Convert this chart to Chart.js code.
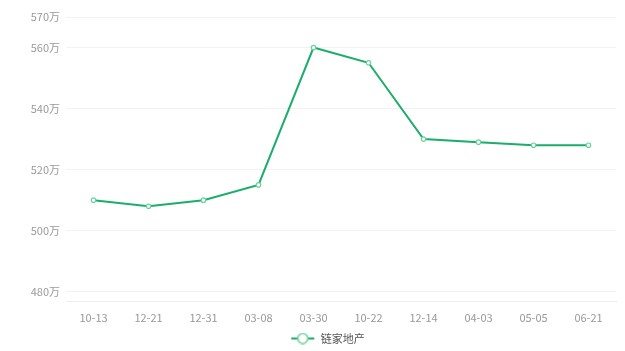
<!DOCTYPE html>
<html><head><meta charset="utf-8">
<script src="https://cdn.jsdelivr.net/npm/chart.js@4"></script>
<style>html,body{margin:0;padding:0;background:#fff}#w{width:625px;height:351px}</style>
</head><body><div id="w"><canvas id="c" width="625" height="351"></canvas></div>
<script>
const categories = ["10-13","12-21","12-31","03-08","03-30","10-22","12-14","04-03","05-05","06-21"];
const values = [510,508,510,515,560,555,530,529,528,528];
const yTicks = [480,500,520,540,560,570];
const seriesName = "链家地产";
const lineColor = "#1aad6b";

const icon = document.createElement('canvas');
icon.width = 64; icon.height = 12;
(function(){const g=icon.getContext('2d');const o=40;g.strokeStyle=lineColor;g.lineWidth=2;g.beginPath();g.moveTo(o,6);g.lineTo(o+23,6);g.stroke();g.beginPath();g.arc(o+11.5,6,5,0,Math.PI*2);g.fillStyle='#fff';g.fill();g.strokeStyle='#6cd3a0';g.lineWidth=1.6;g.stroke();})();

const font = {family:"'Noto Sans CJK SC','Open Sans',sans-serif", size:11};
new Chart(document.getElementById('c'), {
  type:'line',
  data:{labels:categories,datasets:[{label:seriesName,data:values,borderColor:lineColor,borderWidth:2,backgroundColor:'#fff',pointBorderColor:'#6cd3a0',pointBackgroundColor:'#fff',pointRadius:2.2,pointBorderWidth:1.2,tension:0,fill:false}]},
  options:{
    responsive:false,animation:false,
    layout:{padding:{left:0,right:9,top:17,bottom:-3}},
    plugins:{
      legend:{position:'bottom',labels:{usePointStyle:true,pointStyleWidth:64,boxHeight:11,color:'#555',font:font,padding:0,
        generateLabels:(ch)=>[{text:seriesName,pointStyle:icon,fontColor:'#555',datasetIndex:0,lineWidth:0}]}},
      tooltip:{enabled:false}
    },
    scales:{
      x:{offset:true,grid:{display:false,drawTicks:false},border:{color:'#eeeeee'},ticks:{color:'#999',font:font,padding:9,maxRotation:0,autoSkip:false}},
      y:{min:476.7,max:570,
        afterBuildTicks:(s)=>{s.ticks=yTicks.map(v=>({value:v}));},
        afterFit:(s)=>{s.width=66;},
        grid:{color:'#f2f2f2',drawTicks:false},border:{display:false},
        ticks:{color:'#999',font:font,padding:6,callback:(v)=>v+'万'}}
    }
  }
});
</script></body></html>
